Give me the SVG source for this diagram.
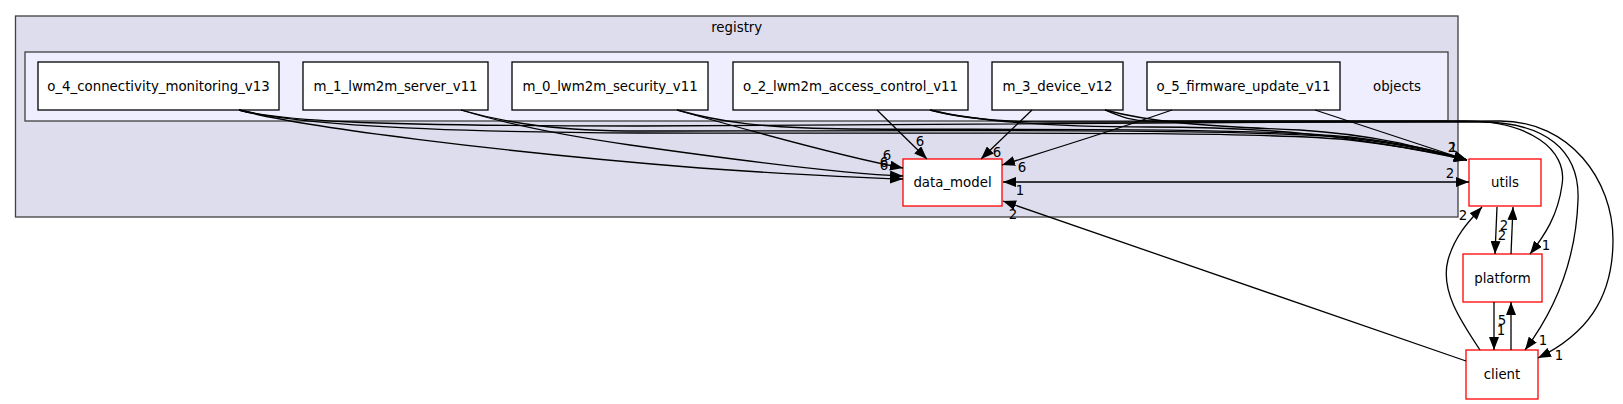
<svg xmlns="http://www.w3.org/2000/svg" width="1623" height="404" viewBox="0 0 1623 404">
<defs>
<style>
text{font-family:"DejaVu Sans","Liberation Sans",sans-serif;font-size:13.33px;fill:#000}
.t{text-anchor:middle}
.cl1{fill:#ddddee;stroke:#404040;stroke-width:1.3}
.cl2{fill:#eeeeff;stroke:#404040;stroke-width:1.3}
.n{fill:#fff;stroke:#000;stroke-width:1.3}
.r{fill:#fff;stroke:#ff0000;stroke-width:1.3}
.e{fill:none;stroke:#000;stroke-width:1.3;marker-end:url(#ah)}
.lb{font-size:13.33px}
</style>
<marker id="ah" markerUnits="userSpaceOnUse" viewBox="0 0 13 10" refX="13" refY="5" markerWidth="13" markerHeight="10" orient="auto">
<path d="M0,0 L13,5 L0,10 Z" fill="#000"/>
</marker>
<marker id="as" markerUnits="userSpaceOnUse" viewBox="0 0 13 10" refX="0" refY="5" markerWidth="13" markerHeight="10" orient="auto">
<path d="M13,0 L0,5 L13,10 Z" fill="#000"/>
</marker>
</defs>
<rect width="1623" height="404" fill="#fff"/>
<g id="cluster_registry">
<rect class="cl1" x="15.5" y="16" width="1442.5" height="201"/>
<text class="t" x="736.7" y="32">registry</text>
</g>
<g id="cluster_objects">
<rect class="cl2" x="25" y="52" width="1423" height="69"/>
<text class="t" x="1397" y="90.5">objects</text>
</g>
<g id="node_o4"><rect class="n" x="38" y="62" width="241" height="48"/><text class="t" x="158.5" y="90.5">o_4_connectivity_monitoring_v13</text></g>
<g id="node_m1"><rect class="n" x="303" y="62" width="185" height="48"/><text class="t" x="395.5" y="90.5">m_1_lwm2m_server_v11</text></g>
<g id="node_m0"><rect class="n" x="512" y="62" width="196" height="48"/><text class="t" x="610" y="90.5">m_0_lwm2m_security_v11</text></g>
<g id="node_o2"><rect class="n" x="733" y="62" width="235" height="48"/><text class="t" x="850.5" y="90.5">o_2_lwm2m_access_control_v11</text></g>
<g id="node_m3"><rect class="n" x="992" y="62" width="131" height="48"/><text class="t" x="1057.5" y="90.5">m_3_device_v12</text></g>
<g id="node_o5"><rect class="n" x="1147" y="62" width="193" height="48"/><text class="t" x="1243.5" y="90.5">o_5_firmware_update_v11</text></g>
<g id="node_data_model"><rect class="r" x="903" y="159" width="99" height="47"/><text class="t" x="952.5" y="187">data_model</text></g>
<g id="node_utils"><rect class="r" x="1469" y="159" width="72" height="47"/><text class="t" x="1505" y="187">utils</text></g>
<g id="node_platform"><rect class="r" x="1463" y="254" width="79" height="48"/><text class="t" x="1502.5" y="282.5">platform</text></g>
<g id="node_client"><rect class="r" x="1466" y="350" width="72" height="49"/><text class="t" x="1502" y="379">client</text></g>
<g id="connectors">
<path class="e" d="M239,110 C300,127 500,152 700,168 C800,175 870,178 903,179"/>
<path class="e" d="M239,110 C290,123 420,132 640,133 C900,134 1250,130 1350,140 C1400,146 1440,153 1467,160"/>
<path class="e" d="M239,110 C280,120 350,126 640,126 C1000,126 1300,121 1500,121 C1570,121 1613,180 1613,240 C1613,300 1585,335 1538,358"/>
<path class="e" d="M461,110 C500,122 560,135 630,145 C750,162 850,174 903,176"/>
<path class="e" d="M461,110 C510,124 560,131 640,131 C900,131 1250,128 1350,138 C1400,144 1440,152 1467,160"/>
<path class="e" d="M677,110 C740,128 850,158 903,168"/>
<path class="e" d="M677,110 C720,122 760,128 850,129 C1000,130 1250,127 1350,137 C1400,143 1440,151 1467,160"/>
<path class="e" d="M877,110 L927,159"/>
<path class="e" d="M930,110 C980,122 1050,127 1150,127 C1270,127 1350,135 1467,160"/>
<path class="e" d="M930,110 C960,118 1000,122 1050,122 L1480,122 C1545,122 1580,150 1578,200 C1576,260 1555,310 1525,350"/>
<path class="e" d="M1032,110 L981,159"/>
<path class="e" d="M1105,110 C1150,122 1200,126 1300,130 C1380,135 1430,150 1467,160"/>
<path class="e" d="M1105,110 C1120,116 1130,121 1150,121 L1460,121 C1530,120 1568,150 1562,185 C1558,215 1545,235 1530,254"/>
<path class="e" d="M1172,110 C1100,135 1040,153 1002,165"/>
<path class="e" d="M1315,110 L1467,160"/>
<path class="e" d="M1003,182 L1469,182" marker-start="url(#as)"/>
<path class="e" d="M1497,207 L1495,254"/>
<path class="e" d="M1511,254 L1513,207"/>
<path class="e" d="M1494,302 L1494,350"/>
<path class="e" d="M1511,350 L1511,302"/>
<path class="e" d="M1480,350 C1460,320 1440,290 1448,260 C1455,235 1470,220 1482,207"/>
<path class="e" d="M1466,361 L1003,201"/>
</g>
<g id="labels">
<text class="t lb" x="887" y="160">6</text>
<text class="t lb" x="884" y="167">6</text>
<text class="t lb" x="884" y="170">6</text>
<text class="t lb" x="920" y="146">6</text>
<text class="t lb" x="997" y="157">6</text>
<text class="t lb" x="1022" y="172">6</text>
<text class="t lb" x="1020" y="195">1</text>
<text class="t lb" x="1013" y="219">2</text>
<text class="t lb" x="1452" y="152">2</text>
<text class="t lb" x="1453" y="152">1</text>
<text class="t lb" x="1450" y="178">2</text>
<text class="t lb" x="1463" y="220">2</text>
<text class="t lb" x="1504" y="230">2</text>
<text class="t lb" x="1502" y="240">2</text>
<text class="t lb" x="1546" y="250">1</text>
<text class="t lb" x="1502" y="325">5</text>
<text class="t lb" x="1501" y="335">1</text>
<text class="t lb" x="1543" y="345">1</text>
<text class="t lb" x="1559" y="360">1</text>
</g>
</svg>
